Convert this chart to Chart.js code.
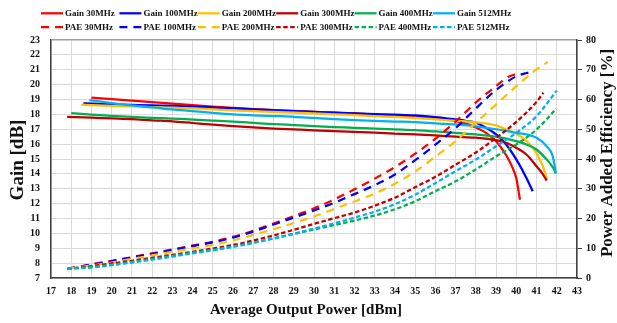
<!DOCTYPE html>
<html>
<head>
<meta charset="utf-8">
<script src="https://cdn.jsdelivr.net/npm/chart.js@4/dist/chart.umd.min.js"></script>
<style>
  html, body { margin: 0; padding: 0; background: #ffffff; }
  #wrap { width: 617px; height: 323px; }
</style>
</head>
<body>
<div id="wrap"><canvas id="chart" width="617" height="323"></canvas></div>
<script>
// Gain [dB] versus average output power [dBm], one curve per carrier frequency
const gain30X  = [19, 20, 21, 22, 23, 24, 25, 26, 27, 28, 29, 30, 31, 32, 33, 34, 35, 36, 36.5, 37, 37.5, 38, 38.5, 39, 39.5, 39.8, 40, 40.18];
const gain30Y  = [19.12, 19.02, 18.92, 18.82, 18.72, 18.62, 18.52, 18.43, 18.36, 18.29, 18.23, 18.17, 18.11, 18.06, 18.0, 17.94, 17.86, 17.74, 17.66, 17.55, 17.38, 17.12, 16.76, 16.2, 15.25, 14.45, 13.7, 12.26];
const gain100X = [18.6, 19, 20, 21, 22, 23, 24, 25, 26, 27, 28, 29, 30, 31, 32, 33, 34, 35, 36, 37, 37.5, 38, 38.5, 39, 39.5, 40, 40.5, 40.81];
const gain100Y = [18.74, 18.72, 18.68, 18.64, 18.6, 18.57, 18.52, 18.46, 18.40, 18.34, 18.28, 18.22, 18.17, 18.11, 18.06, 18.02, 17.98, 17.93, 17.82, 17.66, 17.57, 17.44, 17.1, 16.65, 15.98, 14.97, 13.73, 12.83];
const gain200X = [18.5, 19, 20, 21, 22, 23, 24, 25, 26, 27, 28, 29, 30, 31, 32, 33, 34, 35, 36, 37, 38, 38.5, 39, 39.5, 40, 40.5, 41, 41.3, 41.53];
const gain200Y = [18.65, 18.62, 18.57, 18.53, 18.49, 18.46, 18.4, 18.34, 18.27, 18.22, 18.16, 18.11, 18.06, 18.0, 17.95, 17.88, 17.83, 17.77, 17.67, 17.57, 17.47, 17.39, 17.26, 17.0, 16.7, 16.22, 15.4, 14.55, 13.62];
const gain300X = [17.8, 19, 20, 21, 22, 23, 24, 25, 26, 27, 28, 29, 30, 31, 32, 33, 34, 35, 36, 37, 38, 39, 39.5, 40, 40.5, 41, 41.3, 41.5];
const gain300Y = [17.84, 17.78, 17.73, 17.68, 17.6, 17.53, 17.42, 17.31, 17.21, 17.12, 17.05, 16.99, 16.93, 16.88, 16.83, 16.77, 16.71, 16.65, 16.58, 16.5, 16.43, 16.27, 16.09, 15.75, 15.3, 14.51, 14.0, 13.55];
const gain400X = [18.0, 19, 20, 21, 22, 23, 24, 25, 26, 27, 28, 29, 30, 31, 32, 33, 34, 35, 36, 37, 38, 39, 40, 40.5, 41, 41.5, 41.8, 41.96];
const gain400Y = [18.08, 17.98, 17.9, 17.83, 17.77, 17.72, 17.65, 17.58, 17.51, 17.43, 17.35, 17.28, 17.21, 17.15, 17.10, 17.04, 16.99, 16.94, 16.85, 16.76, 16.65, 16.5, 16.2, 15.98, 15.64, 14.97, 14.45, 14.02];
const gain512X = [18.9, 19.5, 20, 21, 22, 23, 24, 25, 26, 27, 28, 29, 30, 31, 32, 33, 34, 35, 36, 37, 38, 39, 40, 40.5, 41, 41.5, 41.8, 41.96];
const gain512Y = [18.96, 18.85, 18.76, 18.6, 18.47, 18.33, 18.22, 18.1, 18.0, 17.94, 17.89, 17.84, 17.76, 17.68, 17.61, 17.56, 17.52, 17.48, 17.39, 17.32, 17.2, 17.0, 16.76, 16.65, 16.43, 15.86, 15.19, 14.02];

// Power added efficiency [%] versus average output power [dBm]
const pae30X  = [17.8, 19, 20, 21, 22, 23, 24, 25, 26, 27, 28, 29, 30, 31, 32, 33, 34, 35, 36, 37, 38, 39, 39.5, 40, 40.18];
const pae30Y  = [3.1, 4.6, 5.8, 7.0, 8.3, 9.6, 10.9, 12.2, 13.8, 15.9, 18.3, 20.8, 23.4, 26.4, 29.8, 33.4, 37.3, 41.8, 46.8, 52.6, 59.0, 64.5, 67.2, 68.6, 69.0];
const pae100X = [17.8, 19, 20, 21, 22, 23, 24, 25, 26, 27, 28, 29, 30, 31, 32, 33, 34, 35, 36, 37, 38, 39, 40, 40.5, 40.81];
const pae100Y = [3.1, 4.5, 5.6, 6.9, 8.1, 9.4, 10.7, 12.0, 13.6, 15.6, 18.0, 20.3, 22.7, 25.3, 28.2, 31.2, 34.8, 39.6, 44.8, 50.4, 57.0, 63.2, 67.8, 68.9, 69.3];
const pae200X = [17.8, 19, 20, 21, 22, 23, 24, 25, 26, 27, 28, 29, 30, 31, 32, 33, 34, 35, 36, 37, 38, 39, 40, 41, 41.55];
const pae200Y = [3.1, 4.2, 5.2, 6.4, 7.6, 8.8, 9.9, 11.1, 12.6, 14.5, 16.4, 18.5, 20.7, 23.2, 25.7, 28.4, 31.7, 35.8, 40.8, 46.0, 52.2, 58.3, 64.5, 70.1, 72.6];
const pae300X = [17.8, 19, 20, 21, 22, 23, 24, 25, 26, 27, 28, 29, 30, 31, 32, 33, 34, 35, 36, 37, 38, 39, 40, 41, 41.34];
const pae300Y = [3.1, 4.0, 4.9, 5.8, 6.8, 7.8, 8.8, 9.9, 11.1, 12.6, 14.3, 16.2, 18.2, 20.1, 22.0, 24.3, 27.0, 30.5, 34.0, 38.1, 42.2, 47.1, 52.5, 59.2, 62.3];
const pae400X = [17.8, 19, 20, 21, 22, 23, 24, 25, 26, 27, 28, 29, 30, 31, 32, 33, 34, 35, 36, 37, 38, 39, 40, 41, 41.97];
const pae400Y = [3.1, 3.7, 4.5, 5.4, 6.4, 7.4, 8.5, 9.5, 10.6, 11.9, 13.3, 14.8, 16.3, 17.8, 19.3, 21.0, 23.1, 25.8, 29.2, 32.5, 36.5, 40.9, 44.9, 49.9, 56.9];
const pae512X = [17.8, 19, 20, 21, 22, 23, 24, 25, 26, 27, 28, 29, 30, 31, 32, 33, 34, 35, 36, 37, 38, 39, 40, 41, 42.0];
const pae512Y = [3.1, 3.5, 4.3, 5.2, 6.2, 7.2, 8.3, 9.3, 10.5, 11.8, 13.3, 14.9, 16.6, 18.4, 20.3, 22.3, 24.8, 28.0, 31.9, 35.9, 39.8, 44.3, 48.8, 54.4, 63.0];

// Axis ranges and labels
const xRange    = [17, 43];
const gainRange = [7, 23];
const paeRange  = [0, 80];
const xTitle    = 'Average Output Power [dBm]';
const gainTitle = 'Gain [dB]';
const paeTitle  = 'Power Added Efficiency [%]';

const SERIF = '"Liberation Serif", "Times New Roman", serif';
const INK = '#111111';
const AXIS = '#404040';
const LONG_DASH = [8, 6];
const SHORT_DASH = [4.5, 2.5];

const pts = (xs, ys) => xs.map((x, i) => ({ x: x, y: ys[i] }));

const series = [
  { label: 'Gain 30MHz',  xs: gain30X,  ys: gain30Y,  color: '#FF0000', axis: 'y',  dash: [] },
  { label: 'Gain 100MHz', xs: gain100X, ys: gain100Y, color: '#0000FF', axis: 'y',  dash: [] },
  { label: 'Gain 200MHz', xs: gain200X, ys: gain200Y, color: '#FFC000', axis: 'y',  dash: [] },
  { label: 'Gain 300MHz', xs: gain300X, ys: gain300Y, color: '#C00000', axis: 'y',  dash: [] },
  { label: 'Gain 400MHz', xs: gain400X, ys: gain400Y, color: '#00B050', axis: 'y',  dash: [] },
  { label: 'Gain 512MHz', xs: gain512X, ys: gain512Y, color: '#00B0F0', axis: 'y',  dash: [] },
  { label: 'PAE 30MHz',   xs: pae30X,   ys: pae30Y,   color: '#FF0000', axis: 'y1', dash: LONG_DASH },
  { label: 'PAE 100MHz',  xs: pae100X,  ys: pae100Y,  color: '#0000FF', axis: 'y1', dash: LONG_DASH },
  { label: 'PAE 200MHz',  xs: pae200X,  ys: pae200Y,  color: '#FFC000', axis: 'y1', dash: LONG_DASH },
  { label: 'PAE 300MHz',  xs: pae300X,  ys: pae300Y,  color: '#C00000', axis: 'y1', dash: SHORT_DASH },
  { label: 'PAE 400MHz',  xs: pae400X,  ys: pae400Y,  color: '#00B050', axis: 'y1', dash: SHORT_DASH },
  { label: 'PAE 512MHz',  xs: pae512X,  ys: pae512Y,  color: '#00B0F0', axis: 'y1', dash: SHORT_DASH }
];

const datasets = series.map((s, i) => ({
  label: s.label,
  data: pts(s.xs, s.ys),
  yAxisID: s.axis,
  borderColor: s.color,
  backgroundColor: s.color,
  borderWidth: 2.25,
  borderDash: s.dash,
  borderCapStyle: 'butt',
  pointRadius: 0,
  pointHoverRadius: 0,
  fill: false,
  tension: 0.4,
  cubicInterpolationMode: 'monotone',
  order: series.length - i   // later series are painted over earlier ones
}));

// Two-row legend grid and the three axis titles
const legendAndTitles = {
  id: 'legendAndTitles',
  afterDraw(chart) {
    const ctx = chart.ctx;
    ctx.save();
    ctx.textBaseline = 'middle';
    chart.data.datasets.forEach((ds, i) => {
      const col = i % 6;
      const row = Math.floor(i / 6);
      const x0 = 41 + col * 78.4;
      const y = row === 0 ? 13.3 : 27;
      ctx.strokeStyle = ds.borderColor;
      ctx.lineWidth = ds.borderWidth;
      ctx.lineCap = 'butt';
      ctx.setLineDash(ds.borderDash || []);
      ctx.beginPath();
      ctx.moveTo(x0, y);
      ctx.lineTo(x0 + 22, y);
      ctx.stroke();
      ctx.setLineDash([]);
      ctx.fillStyle = INK;
      ctx.textAlign = 'left';
      ctx.font = 'bold 9px ' + SERIF;
      ctx.fillText(ds.label, x0 + 24, y + 0.5);
    });

    ctx.fillStyle = INK;
    ctx.textAlign = 'center';
    ctx.font = 'bold 15px ' + SERIF;
    ctx.fillText(xTitle, 306, 310);

    ctx.save();
    ctx.translate(18, 160);
    ctx.rotate(-Math.PI / 2);
    ctx.font = 'bold 19px ' + SERIF;
    ctx.fillText(gainTitle, 0, 0);
    ctx.restore();

    ctx.save();
    ctx.translate(607.5, 153);
    ctx.rotate(-Math.PI / 2);
    ctx.font = 'bold 17px ' + SERIF;
    ctx.fillText(paeTitle, 0, 0);
    ctx.restore();

    ctx.restore();
  }
};

const tickFont = { family: SERIF, size: 10, weight: 'bold' };

new Chart(document.getElementById('chart'), {
  type: 'line',
  data: { datasets: datasets },
  plugins: [legendAndTitles],
  options: {
    responsive: false,
    animation: false,
    events: [],
    layout: { padding: { top: 40, left: 0, right: 0, bottom: 0 } },
    plugins: {
      legend: { display: false },
      title: { display: false },
      tooltip: { enabled: false }
    },
    scales: {
      x: {
        type: 'linear',
        position: 'bottom',
        min: xRange[0],
        max: xRange[1],
        afterFit(s) { s.height = 45; },
        ticks: { stepSize: 1, autoSkip: false, maxRotation: 0, padding: 7, color: INK, font: tickFont },
        grid: { color: '#d9d9d9', lineWidth: 1, drawTicks: false },
        border: { display: true, color: AXIS, width: 1.5 }
      },
      y: {
        type: 'linear',
        position: 'left',
        min: gainRange[0],
        max: gainRange[1],
        afterFit(s) { s.width = 51; },
        ticks: { stepSize: 1, autoSkip: false, padding: 11, color: INK, font: tickFont },
        grid: {
          color: (c) => (c.tick && c.tick.value === gainRange[1]) ? '#9e9e9e' : '#d9d9d9',
          lineWidth: (c) => (c.tick && c.tick.value === gainRange[1]) ? 1.5 : 1,
          drawTicks: false
        },
        border: { display: true, color: AXIS, width: 1.5 }
      },
      y1: {
        type: 'linear',
        position: 'right',
        min: paeRange[0],
        max: paeRange[1],
        afterFit(s) { s.width = 40; },
        ticks: { stepSize: 10, autoSkip: false, padding: 4, color: INK, font: tickFont },
        grid: { drawOnChartArea: false, drawTicks: true, tickLength: 5, tickColor: AXIS, tickWidth: 1 },
        border: { display: true, color: AXIS, width: 1.5 }
      }
    }
  }
});
</script>
</body>
</html>
